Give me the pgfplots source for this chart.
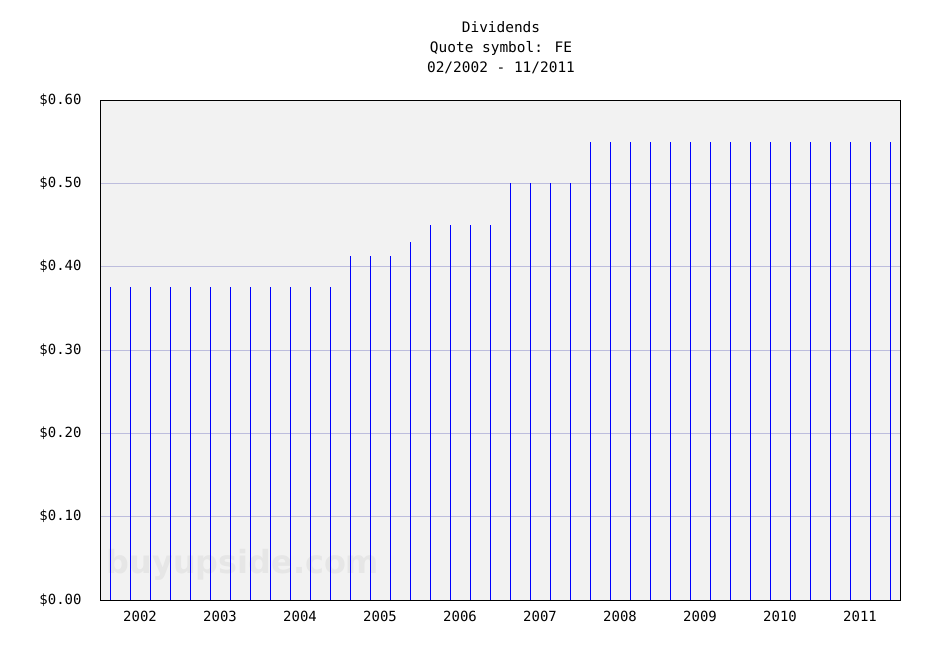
\documentclass[border=0pt]{standalone}
\usepackage{pgfplots}
\pgfplotsset{compat=1.18}
\usepackage{fontspec}
\setmainfont{DejaVu Sans Mono}
\newfontfamily\wmfont{DejaVu Sans}
\definecolor{plotbg}{HTML}{F2F2F2}
\definecolor{gridc}{HTML}{BDBDDD}
\definecolor{wm}{HTML}{E6E6E6}
\begin{document}
\begin{tikzpicture}[x=1bp,y=1bp]
\path[use as bounding box] (0,0) rectangle (950,650);
\fill[white] (0,0) rectangle (950,650);
\fill[plotbg] (100,50) rectangle (900,550);
\node[text=wm, anchor=center, inner sep=0pt] at (243,85) {\wmfont\bfseries\fontsize{32}{32}\selectfont buyupside.com};
\node[align=center, anchor=center, inner sep=0pt, font=\fontsize{14.5}{20}\selectfont] at (501,602) {Dividends\\Quote symbol: FE\\02/2002 - 11/2011};
\begin{axis}[
  at={(100bp,50bp)}, anchor=south west,
  scale only axis, width=800bp, height=500bp,
  xmin=2002, xmax=2012, ymin=0, ymax=0.6,
  axis line style={black, line width=0.9bp},
  xtick={2002.5,2003.5,2004.5,2005.5,2006.5,2007.5,2008.5,2009.5,2010.5,2011.5},
  xticklabels={2002,2003,2004,2005,2006,2007,2008,2009,2010,2011},
  ytick={0,0.1,0.2,0.3,0.4,0.5,0.6},
  yticklabels={\$0.00,\$0.10,\$0.20,\$0.30,\$0.40,\$0.50,\$0.60},
  major tick length=0pt,
  ymajorgrids, grid style={gridc, line width=0.9bp},
  tick label style={font=\fontsize{14}{16}\selectfont},
  yticklabel style={xshift=-15bp},
  xticklabel style={yshift=-8bp},
]
\addplot[ycomb, blue, line width=0.9bp, mark=none] coordinates {
(2002.125,0.375) (2002.375,0.375) (2002.625,0.375) (2002.875,0.375)
(2003.125,0.375) (2003.375,0.375) (2003.625,0.375) (2003.875,0.375)
(2004.125,0.375) (2004.375,0.375) (2004.625,0.375) (2004.875,0.375)
(2005.125,0.4125) (2005.375,0.4125) (2005.625,0.4125) (2005.875,0.43)
(2006.125,0.45) (2006.375,0.45) (2006.625,0.45) (2006.875,0.45)
(2007.125,0.50) (2007.375,0.50) (2007.625,0.50) (2007.875,0.50)
(2008.125,0.55) (2008.375,0.55) (2008.625,0.55) (2008.875,0.55)
(2009.125,0.55) (2009.375,0.55) (2009.625,0.55) (2009.875,0.55)
(2010.125,0.55) (2010.375,0.55) (2010.625,0.55) (2010.875,0.55)
(2011.125,0.55) (2011.375,0.55) (2011.625,0.55) (2011.875,0.55)
};
\end{axis}
\end{tikzpicture}
\end{document}
